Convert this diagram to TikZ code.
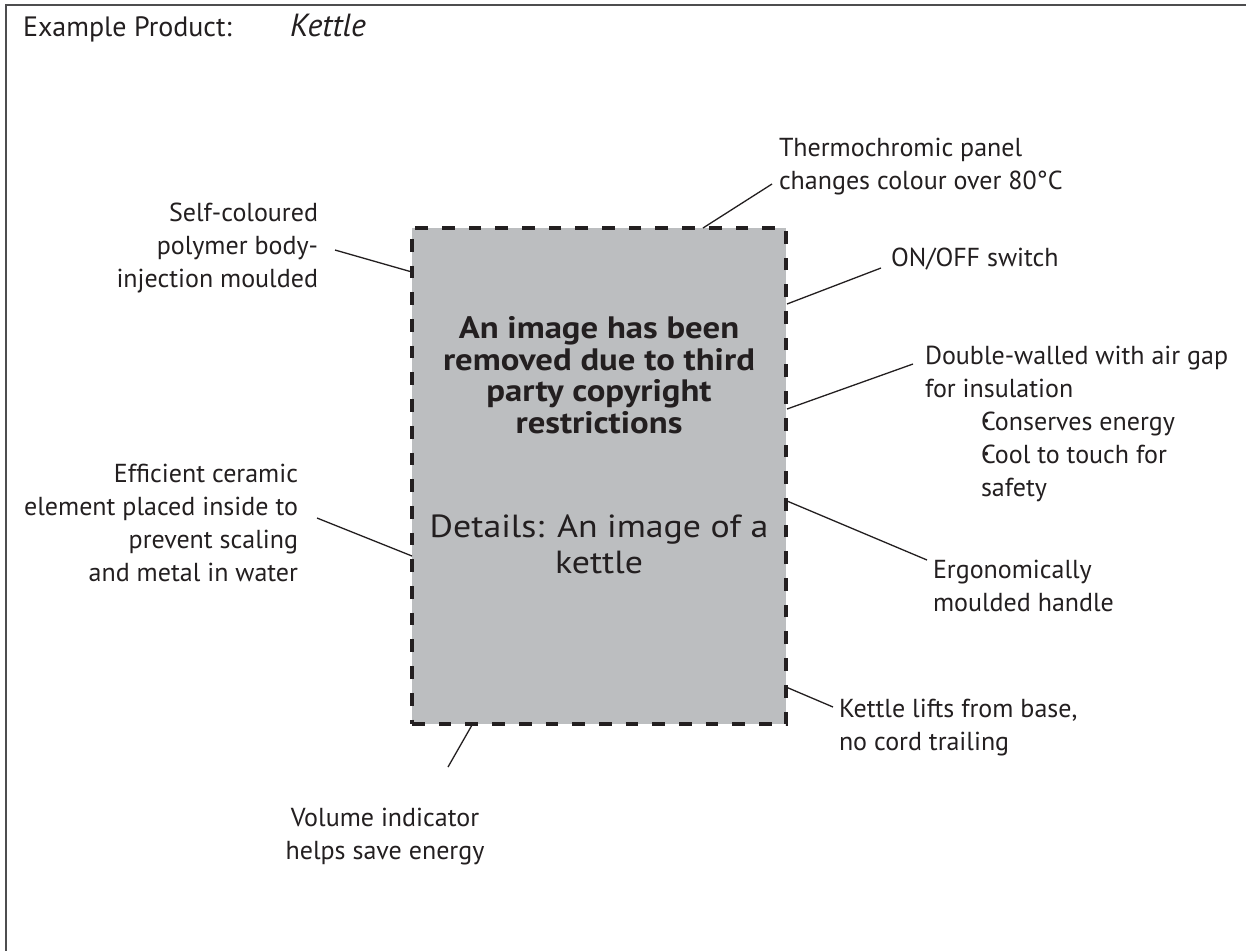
\documentclass[tikz,border=0pt]{standalone}
\usepackage{fontspec}
\setmainfont{PT Sans}
\newfontfamily\boxfont[FakeStretch=1.12]{PT Sans}
\definecolor{ink}{HTML}{231F20}
\definecolor{boxgray}{HTML}{BCBEC0}
\definecolor{framegray}{HTML}{4D4D4F}
\newcommand{\bul}{\rlap{\kern2pt\raisebox{4.5pt}{\fontsize{14}{14}\selectfont •}}}
\begin{document}
\begin{tikzpicture}[x=1pt,y=-1pt,
  lbl/.style={inner sep=0pt, outer sep=0pt, font=\fontsize{26}{33}\selectfont, text=ink},
  lblL/.style={lbl, align=left, anchor=base west},
  lblR/.style={lbl, align=right, anchor=base east},
  conn/.style={draw=ink, line width=1.3pt},
  dashbox/.style={draw=ink, fill=boxgray, line width=4pt, dash pattern=on 12.7pt off 14pt,
     minimum width=374pt, minimum height=496pt, inner sep=0pt, outer sep=0pt}]
\useasboundingbox (0,0) rectangle (1246,951);
\fill[white] (0,0) rectangle (1246,951);
% outer frame (open to right and bottom)
\draw[line width=1.6pt, draw=framegray] (1246,5) -- (6,5) -- (6,951);
% title
\node[lbl, anchor=base west, font=\fontsize{28}{36}\selectfont] (title) at (23,36) {Example Product:};
\node[lbl, anchor=base west, font=\fontsize{32}{36}\selectfont\itshape] (product) at (290,36) {Kettle};
% placeholder box
\node[dashbox] (box) at (599,476) {};
\node[lbl, align=center, anchor=base, font=\boxfont\fontsize{31}{31.5}\selectfont\bfseries] (msg) at (599,433)
  {An image has been\\removed due to third\\party copyright\\restrictions};
\node[lbl, align=center, anchor=base, font=\boxfont\fontsize{32}{36}\selectfont] (details) at (599,573)
  {Details: An image of a\\kettle};
% labels (base anchor = baseline of the last line)
\node[lblL] (thermo) at (779,189) {Thermochromic panel\\changes colour over 80°C};
\node[lblR] (self) at (318,287) {Self-coloured\\polymer body-\\injection moulded};
\node[lblL] (onoff) at (891,266) {ON/OFF switch};
\node[lblL] (double) at (925,496) {Double-walled with air gap\\for insulation\\
  \hspace*{56pt}\bul Conserves energy\\
  \hspace*{56pt}\bul Cool to touch for\\
  \hspace*{56pt}safety};
\node[lblR] (ceramic) at (298,581) {Efficient ceramic\\element placed inside to\\prevent scaling\\and metal in water};
\node[lblL] (ergo) at (933,611) {Ergonomically\\moulded handle};
\node[lblL] (lifts) at (839,750) {Kettle lifts from base,\\no cord trailing};
\node[lbl, align=center, anchor=base] (volume) at (385,859) {Volume indicator\\helps save energy};
% connector end points
\coordinate (thermoA) at (772,184);  \coordinate (thermoB) at (703,228);
\coordinate (selfA) at (335,250);    \coordinate (selfB) at (412,272);
\coordinate (onoffA) at (881,268);   \coordinate (onoffB) at (787,304);
\coordinate (doubleA) at (913,364);  \coordinate (doubleB) at (787,409);
\coordinate (ceramicA) at (317,518); \coordinate (ceramicB) at (412,556);
\coordinate (ergoA) at (927,560);    \coordinate (ergoB) at (787,501);
\coordinate (liftsA) at (833,707);   \coordinate (liftsB) at (786,687);
\coordinate (volumeA) at (448,767);  \coordinate (volumeB) at (472,725);
\draw[conn] (thermoA) -- (thermoB);
\draw[conn] (selfA) -- (selfB);
\draw[conn] (onoffA) -- (onoffB);
\draw[conn] (doubleA) -- (doubleB);
\draw[conn] (ceramicA) -- (ceramicB);
\draw[conn] (ergoA) -- (ergoB);
\draw[conn] (liftsA) -- (liftsB);
\draw[conn] (volumeA) -- (volumeB);
\end{tikzpicture}
\end{document}
